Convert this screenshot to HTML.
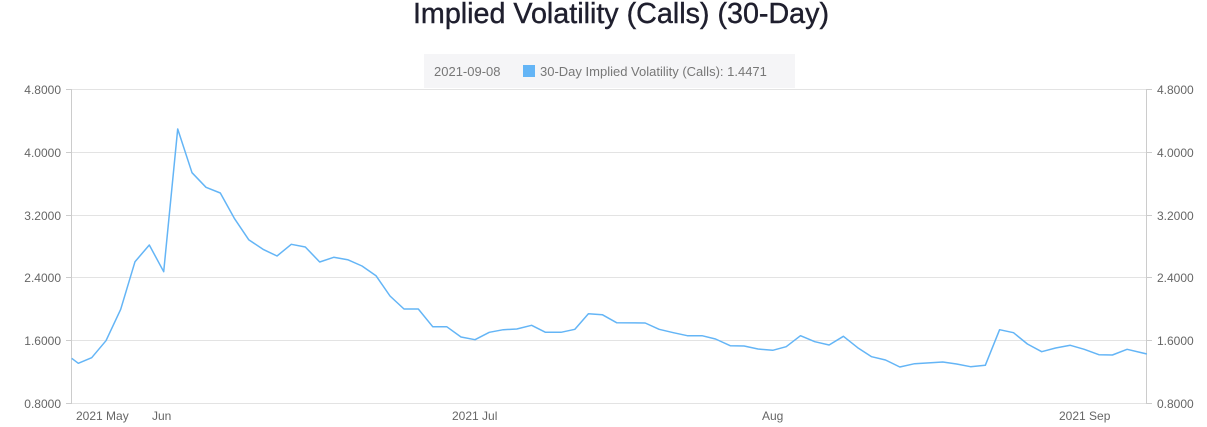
<!DOCTYPE html>
<html><head><meta charset="utf-8"><style>
html,body{margin:0;padding:0;background:#fff;}
svg{display:block;font-family:"Liberation Sans",sans-serif;}
</style></head><body>
<svg width="1207" height="427" viewBox="0 0 1207 427">
<text x="621" y="23" text-anchor="middle" font-size="28.7" fill="#1f1f2e" stroke="#1f1f2e" stroke-width="0.4">Implied Volatility (Calls) (30-Day)</text>
<g stroke="#e3e3e3" stroke-width="1">
<line x1="71" y1="89.5" x2="1147" y2="89.5"/>
<line x1="71" y1="152.5" x2="1147" y2="152.5"/>
<line x1="71" y1="215.5" x2="1147" y2="215.5"/>
<line x1="71" y1="277.5" x2="1147" y2="277.5"/>
<line x1="71" y1="340.5" x2="1147" y2="340.5"/>
<line x1="71" y1="403.5" x2="1147" y2="403.5"/>
</g>
<g stroke="#ccc" stroke-width="1">
<line x1="71.5" y1="89" x2="71.5" y2="404"/>
<line x1="1146.5" y1="89" x2="1146.5" y2="404"/>
<line x1="66" y1="89.5" x2="71" y2="89.5"/><line x1="66" y1="152.5" x2="71" y2="152.5"/><line x1="66" y1="215.5" x2="71" y2="215.5"/><line x1="66" y1="277.5" x2="71" y2="277.5"/><line x1="66" y1="340.5" x2="71" y2="340.5"/><line x1="66" y1="403.5" x2="71" y2="403.5"/>
<line x1="1147" y1="89.5" x2="1152" y2="89.5"/><line x1="1147" y1="152.5" x2="1152" y2="152.5"/><line x1="1147" y1="215.5" x2="1152" y2="215.5"/><line x1="1147" y1="277.5" x2="1152" y2="277.5"/><line x1="1147" y1="340.5" x2="1152" y2="340.5"/><line x1="1147" y1="403.5" x2="1152" y2="403.5"/>
</g>
<g font-size="12" fill="#666" text-anchor="end">
<text x="61" y="94">4.8000</text><text x="61" y="157">4.0000</text><text x="61" y="220">3.2000</text><text x="61" y="282">2.4000</text><text x="61" y="345">1.6000</text><text x="61" y="408">0.8000</text>
</g>
<g font-size="12" fill="#666">
<text x="1157" y="94">4.8000</text><text x="1157" y="157">4.0000</text><text x="1157" y="220">3.2000</text><text x="1157" y="282">2.4000</text><text x="1157" y="345">1.6000</text><text x="1157" y="408">0.8000</text>
</g>
<g font-size="12" fill="#666">
<text x="76" y="420">2021 May</text><text x="152" y="420">Jun</text><text x="452" y="420">2021 Jul</text><text x="762" y="420">Aug</text><text x="1059" y="420">2021 Sep</text>
</g>
<polyline fill="none" stroke="#64b5f6" stroke-width="1.5" stroke-linejoin="round" points="71.7,358.3 78.3,363.3 91.7,357.7 106,340.7 120.7,309.3 135,261.7 149.3,245 163.7,271.7 177.7,129 192,172.7 206,187.3 220.3,193 234.3,218.3 248.7,239.7 263,249.3 277,256 291.3,244.3 305.3,247 319.7,262 333.7,257.3 347.7,259.7 362,266 376,275.7 390,296 404,309 418.3,309 432.7,326.7 446.7,326.7 461,337 475,339.7 489.3,332.3 503.3,329.7 516.8,329 531.6,325.3 545.5,332.3 561,332.3 574.9,329.3 588.4,313.7 602.3,314.7 616.6,322.7 645.2,323 659.1,329.3 673.4,332.7 687.3,335.7 702,335.7 715.5,339 730.2,345.7 744.1,346 758,349 772.7,350.3 786.2,346.7 800.5,335.7 814.8,341.7 829.1,345 843.4,336.3 857.7,347.7 871.6,356.7 885.5,360 899.8,367 914.6,363.7 942.8,362 956.6,364 970.5,366.7 985.3,365.3 999.6,329.7 1013.5,332.7 1027.4,344 1041.7,351.7 1055.6,348 1070.3,345.3 1084.2,349.3 1098.9,354.7 1112.4,355 1127.1,349.3 1146.9,354"/>
<rect x="424" y="54" width="371" height="34" fill="#f5f5f7"/>
<text x="434" y="76" font-size="13" fill="#777">2021-09-08</text>
<rect x="523" y="65" width="12" height="12" fill="#64b5f6"/>
<text x="540" y="76" font-size="13" fill="#777">30-Day Implied Volatility (Calls): 1.4471</text>
</svg>
</body></html>
